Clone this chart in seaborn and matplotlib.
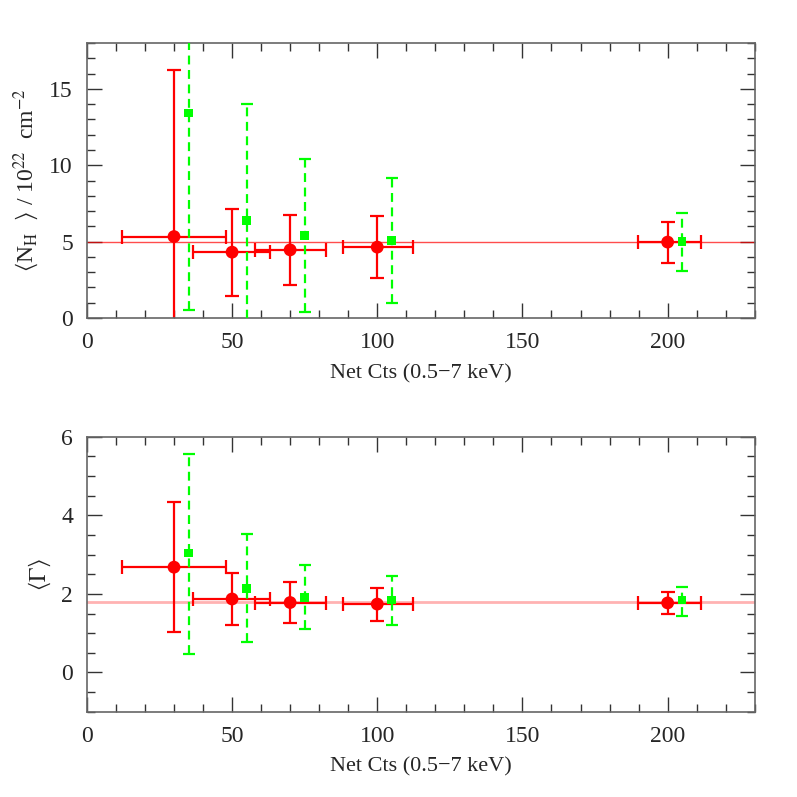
import matplotlib
matplotlib.use('Agg')
import matplotlib.pyplot as plt
import seaborn as sns
from matplotlib.ticker import MultipleLocator

# Contagens (eixo x) dos pontos medios (vermelho) e dos pontos verdes
cts = [30, 50, 70, 100, 200]
cts_lo = [12.0, 36.7, 57.8, 88.2, 189.9]
cts_hi = [48.0, 63.2, 82.5, 112.2, 211.5]
cts_green = [35, 55, 75, 105, 205]

# Painel de cima: <N_H>
nh_red = [5.33, 4.31, 4.46, 4.64, 4.97]
nh_red_lo = [-1.0, 1.44, 2.17, 2.60, 3.63]
nh_red_hi = [16.23, 7.13, 6.76, 6.65, 6.26]
nh_green = [13.43, 6.39, 5.40, 5.07, 5.01]
nh_green_lo = [0.52, -1.0, 0.41, 0.96, 3.06]
nh_green_hi = [20.0, 14.0, 10.41, 9.17, 6.89]
nh_true = 5.0

# Painel de baixo: <Gamma>
gam_red = [2.68, 1.87, 1.78, 1.74, 1.77]
gam_red_lo = [1.04, 1.21, 1.27, 1.32, 1.50]
gam_red_hi = [4.34, 2.54, 2.29, 2.15, 2.04]
gam_green = [3.04, 2.14, 1.91, 1.84, 1.84]
gam_green_lo = [0.47, 0.77, 1.10, 1.22, 1.44]
gam_green_hi = [5.57, 3.53, 2.74, 2.46, 2.18]
gam_true = 1.8

sns.set_theme(style='ticks')
plt.rcParams['font.family'] = ['Liberation Serif', 'DejaVu Serif']
plt.rcParams['mathtext.fontset'] = 'stix'

fig = plt.figure(figsize=(7.97, 7.97), dpi=100)
ax1 = fig.add_axes([0.109, 0.601, 0.838, 0.345])
ax2 = fig.add_axes([0.109, 0.107, 0.838, 0.345])


def painel(ax, yr, yr_lo, yr_hi, yg, yg_lo, yg_hi, ytrue, line_alpha, line_w):
    ax.axhline(ytrue, color='red', alpha=line_alpha, lw=line_w, zorder=1)
    # barras vermelhas
    xerr = [[c - l for c, l in zip(cts, cts_lo)], [h - c for c, h in zip(cts, cts_hi)]]
    yerr = [[v - l for v, l in zip(yr, yr_lo)], [h - v for v, h in zip(yr, yr_hi)]]
    ax.errorbar(cts, yr, xerr=xerr, yerr=yerr, fmt='none', ecolor='red',
                elinewidth=1.6, capsize=5, capthick=1.6, zorder=2)
    sns.scatterplot(x=cts, y=yr, ax=ax, color='red', marker='o', s=85,
                    edgecolor='none', zorder=3)
    # barras verdes tracejadas
    yerr_g = [[v - l for v, l in zip(yg, yg_lo)], [h - v for v, h in zip(yg, yg_hi)]]
    eb = ax.errorbar(cts_green, yg, yerr=yerr_g, fmt='none', ecolor='#00ff00',
                     elinewidth=1.6, capsize=4.5, capthick=1.6, zorder=4)
    eb[2][0].set_linestyle((0, (4, 2.5)))
    sns.scatterplot(x=cts_green, y=yg, ax=ax, color='#00ff00', marker='s', s=38,
                    edgecolor='none', zorder=5)

    ax.set_xlim(0, 230)
    ax.xaxis.set_major_locator(MultipleLocator(50))
    ax.xaxis.set_minor_locator(MultipleLocator(10))
    ax.tick_params(which='both', direction='in', top=True, right=True,
                   color='#333333', labelsize=17, pad=10)
    ax.tick_params(which='major', length=11, width=1)
    ax.tick_params(which='minor', length=5.5, width=1)
    for s in ax.spines.values():
        s.set_color('#666666')
        s.set_linewidth(1.2)
    ax.set_xlabel('Net Cts (0.5\u22127 keV)', fontsize=16, labelpad=8)


painel(ax1, nh_red, nh_red_lo, nh_red_hi, nh_green, nh_green_lo, nh_green_hi,
       nh_true, 0.7, 1.0)
ax1.set_ylim(0, 18)
ax1.yaxis.set_major_locator(MultipleLocator(5))
ax1.yaxis.set_minor_locator(MultipleLocator(1))
ax1.set_ylabel(r'$\langle$N$_{\rm H}$  $\rangle$ / 10$^{22}$  cm$^{-2}$', fontsize=17,
               labelpad=6)

painel(ax2, gam_red, gam_red_lo, gam_red_hi, gam_green, gam_green_lo, gam_green_hi,
       gam_true, 0.3, 2.0)
ax2.set_ylim(-1, 6)
ax2.yaxis.set_major_locator(MultipleLocator(2))
ax2.yaxis.set_minor_locator(MultipleLocator(0.5))
ax2.set_ylabel(r'$\langle\Gamma\rangle$', fontsize=17, labelpad=6)

fig.savefig('out.png', dpi=100)
